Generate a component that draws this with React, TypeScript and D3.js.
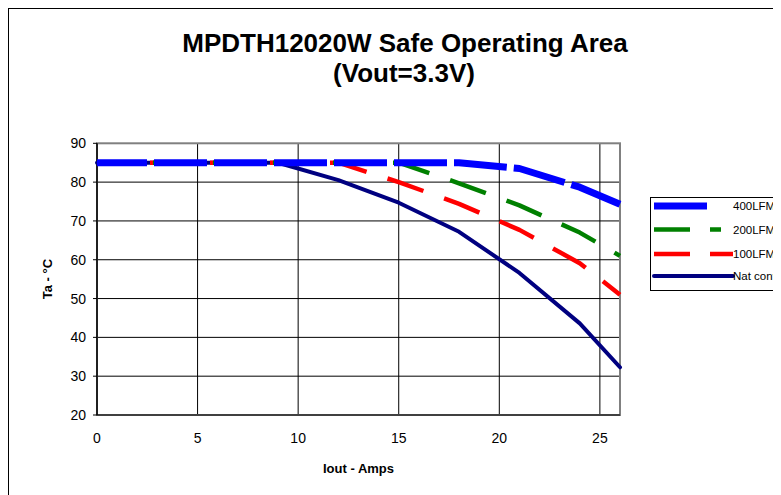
import * as d3 from 'd3';

const amps = [0, 3, 6, 9, 12, 15, 18, 21, 24, 26];
const lfm400 = [85, 85, 85, 85, 85, 85, 85, 83.5, 78.7, 74.3];
const lfm200 = [85, 85, 85, 85, 85, 85, 79.7, 74, 67, 61];
const lfm100 = [85, 85, 85, 85, 85, 80, 74.4, 67.7, 59.1, 51];
const natConv = [85, 85, 85, 85, 80.5, 74.7, 67.2, 56.6, 43.6, 32.3];

const xTicks = [0, 5, 10, 15, 20, 25];
const yTicks = [20, 30, 40, 50, 60, 70, 80, 90];

const seriesNames = ['400LFM', '200LFM', '100LFM', 'Nat conv'];

const font = 'Arial, "Liberation Sans", sans-serif';

export default function App() {
    const left = 97, right = 620, top = 143.3, bottom = 415;
    const x = d3.scaleLinear().domain([0, 26]).range([left, right]);
    const y = d3.scaleLinear().domain([20, 90]).range([bottom, top]);

    const line = d3.line<number>()
        .x((d, i) => x(amps[i]))
        .y(d => y(d));

    // drawn bottom-up so the 400LFM curve sits on top
    const series = [
        { name: seriesNames[3], values: natConv, color: '#000080', width: 4, dash: null, offset: 0 },
        { name: seriesNames[2], values: lfm100, color: '#FF0000', width: 4.5, dash: '38,22', offset: 7 },
        { name: seriesNames[1], values: lfm200, color: '#008000', width: 4.5, dash: '38,22', offset: 4 },
        { name: seriesNames[0], values: lfm400, color: '#0000FF', width: 7, dash: '53,7', offset: 3 },
    ];

    const legendRows = [
        { name: seriesNames[0], color: '#0000FF', width: 7, dash: null, x2: 707, cap: 'butt' },
        { name: seriesNames[1], color: '#008000', width: 4.5, dash: '36,20', x2: 721, cap: 'butt' },
        { name: seriesNames[2], color: '#FF0000', width: 4.5, dash: '36,20', x2: 733, cap: 'butt' },
        { name: seriesNames[3], color: '#000080', width: 4, dash: null, x2: 733, cap: 'round' },
    ];
    const legendY = [206, 229.5, 254, 276];

    return (
        <svg width={773} height={487} style={{ display: 'block', fontFamily: font }}>
            <rect x={0.5} y={0.5} width={800} height={600} fill="#fff" stroke="#000" strokeWidth={1} />

            <text x={397} y={43.5} textAnchor="middle" fontSize={26} fontWeight="bold">
                MPDTH12020W Safe Operating Area
            </text>
            <text x={396} y={74} textAnchor="middle" fontSize={26} fontWeight="bold">
                (Vout=3.3V)
            </text>

            <g transform="translate(-8,-8)">
                {yTicks.filter(t => t > 20 && t < 90).map(t => (
                    <line key={'gy' + t} x1={left} x2={right} y1={y(t)} y2={y(t)} stroke="#000" strokeWidth={1} />
                ))}
                {xTicks.filter(t => t > 0).map(t => (
                    <line key={'gx' + t} x1={x(t)} x2={x(t)} y1={top} y2={bottom} stroke="#000" strokeWidth={1} />
                ))}
                <rect x={left} y={top} width={right - left} height={bottom - top} fill="none" stroke="#808080" strokeWidth={2} />
                <line x1={left} x2={left} y1={top} y2={bottom} stroke="#000" strokeWidth={1.5} />
                <line x1={left} x2={right} y1={bottom} y2={bottom} stroke="#000" strokeWidth={1} />
                {yTicks.map(t => (
                    <g key={'ty' + t}>
                        <line x1={left - 4} x2={left} y1={y(t)} y2={y(t)} stroke="#000" strokeWidth={1} />
                        <text x={86} y={y(t) + 5} textAnchor="end" fontSize={14}>{t}</text>
                    </g>
                ))}
                {xTicks.map(t => (
                    <text key={'tx' + t} x={x(t)} y={443} textAnchor="middle" fontSize={14}>{t}</text>
                ))}

                <text x={(left + right) / 2} y={473} textAnchor="middle" fontSize={13} fontWeight="bold">Iout - Amps</text>
                <text transform={`translate(52,${(top + bottom) / 2}) rotate(-90)`} textAnchor="middle" fontSize={13} fontWeight="bold">Ta - °C</text>

                {series.map(s => (
                    <path key={s.name} d={line(s.values) ?? ''} fill="none" stroke={s.color}
                        strokeWidth={s.width} strokeDasharray={s.dash ?? undefined}
                        strokeDashoffset={s.offset} strokeLinejoin="round"
                        strokeLinecap={s.dash ? 'butt' : 'round'} />
                ))}

                <rect x={650.5} y={197.5} width={200} height={93} fill="#fff" stroke="#000" strokeWidth={1} />
                {legendRows.map((r, i) => (
                    <g key={r.name}>
                        <line x1={654} x2={r.x2} y1={legendY[i]} y2={legendY[i]} stroke={r.color}
                            strokeWidth={r.width} strokeDasharray={r.dash ?? undefined} strokeLinecap={r.cap as any} />
                        <text x={733} y={legendY[i] + 4} fontSize={11.5}>{r.name}</text>
                    </g>
                ))}
            </g>
        </svg>
    );
}
